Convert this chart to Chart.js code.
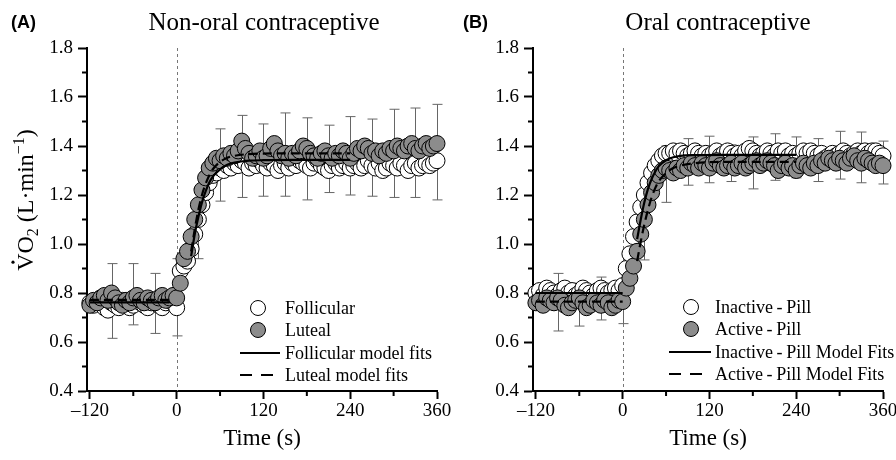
<!DOCTYPE html>
<html>
<head>
<meta charset="utf-8">
<script src="https://cdn.jsdelivr.net/npm/chart.js@4.4.0/dist/chart.umd.min.js"></script>
<style>
  body { margin: 0; background: #fff; }
  #wrap { position: relative; width: 896px; height: 460px; overflow: hidden; }
  #chartA { position: absolute; left: 0; top: 0; }
  #chartB { position: absolute; left: 448px; top: 0; }
</style>
</head>
<body>
<div id="wrap">
  <canvas id="chartA" width="460" height="460"></canvas>
  <canvas id="chartB" width="448" height="460"></canvas>
</div>
<script>
// time points (s), 5-s bins
const times = [
  -120,-115,-110,-105,-100,-95,-90,-85,-80,-75,-70,-65,
  -60,-55,-50,-45,-40,-35,-30,-25,-20,-15,-10,-5,
  0,5,10,15,20,25,30,35,40,45,50,55,
  60,65,70,75,80,85,90,95,100,105,110,115,
  120,125,130,135,140,145,150,155,160,165,170,175,
  180,185,190,195,200,205,210,215,220,225,230,235,
  240,245,250,255,260,265,270,275,280,285,290,295,
  300,305,310,315,320,325,330,335,340,345,350,355,
  360
];

// (A) Non-oral contraceptive
const follicular = [
  0.76,0.75,0.77,0.78,0.74,0.73,0.76,0.75,0.74,0.77,0.76,0.74,
  0.75,0.77,0.76,0.75,0.74,0.76,0.77,0.75,0.74,0.76,0.77,0.76,
  0.74,0.89,0.91,0.93,0.98,1.04,1.10,1.16,1.21,1.25,1.28,1.29,
  1.31,1.30,1.32,1.31,1.33,1.32,1.34,1.33,1.31,1.33,1.32,1.34,
  1.32,1.31,1.33,1.32,1.30,1.32,1.33,1.31,1.33,1.32,1.34,1.33,
  1.32,1.31,1.33,1.34,1.32,1.31,1.30,1.32,1.33,1.31,1.32,1.33,
  1.31,1.32,1.33,1.31,1.32,1.34,1.32,1.31,1.33,1.30,1.31,1.33,
  1.32,1.31,1.33,1.32,1.30,1.32,1.33,1.31,1.32,1.33,1.32,1.33,
  1.34
];
const luteal = [
  0.75,0.77,0.76,0.78,0.79,0.77,0.80,0.78,0.76,0.75,0.77,0.76,
  0.78,0.79,0.77,0.76,0.78,0.77,0.76,0.78,0.79,0.77,0.78,0.79,
  0.78,0.84,0.94,0.97,1.03,1.10,1.16,1.22,1.27,1.31,1.33,1.35,
  1.34,1.36,1.35,1.37,1.36,1.38,1.42,1.39,1.37,1.35,1.36,1.38,
  1.35,1.36,1.39,1.41,1.38,1.36,1.37,1.35,1.37,1.36,1.38,1.40,
  1.39,1.37,1.36,1.35,1.37,1.38,1.36,1.35,1.37,1.36,1.38,1.37,
  1.35,1.37,1.39,1.38,1.40,1.39,1.37,1.38,1.36,1.38,1.37,1.39,
  1.38,1.40,1.39,1.38,1.40,1.41,1.39,1.38,1.40,1.41,1.39,1.40,
  1.41
];

// (B) Oral contraceptive
const inactivePill = [
  0.80,0.81,0.79,0.82,0.81,0.80,0.79,0.81,0.82,0.80,0.81,0.79,
  0.80,0.82,0.81,0.80,0.79,0.81,0.82,0.81,0.80,0.81,0.82,0.81,
  0.83,0.90,0.96,1.03,1.09,1.15,1.20,1.25,1.29,1.32,1.34,1.36,
  1.37,1.37,1.38,1.37,1.38,1.37,1.36,1.37,1.38,1.37,1.36,1.37,
  1.36,1.37,1.38,1.36,1.37,1.38,1.37,1.36,1.37,1.36,1.38,1.39,
  1.38,1.37,1.36,1.37,1.38,1.37,1.36,1.38,1.37,1.38,1.36,1.37,
  1.36,1.37,1.38,1.37,1.38,1.37,1.36,1.37,1.35,1.36,1.37,1.36,
  1.37,1.38,1.37,1.36,1.37,1.38,1.37,1.38,1.37,1.38,1.38,1.37,
  1.36
];
const activePill = [
  0.76,0.77,0.75,0.78,0.77,0.76,0.78,0.77,0.75,0.74,0.76,0.77,
  0.78,0.76,0.74,0.75,0.77,0.76,0.75,0.77,0.76,0.74,0.75,0.77,
  0.765,0.82,0.86,0.91,0.97,1.04,1.10,1.16,1.21,1.25,1.28,1.30,
  1.31,1.30,1.29,1.31,1.30,1.32,1.31,1.33,1.32,1.31,1.33,1.32,
  1.31,1.33,1.34,1.32,1.31,1.32,1.33,1.31,1.32,1.33,1.31,1.32,
  1.33,1.34,1.32,1.33,1.34,1.33,1.32,1.30,1.32,1.33,1.31,1.32,
  1.30,1.32,1.33,1.32,1.31,1.33,1.32,1.34,1.33,1.35,1.34,1.33,
  1.35,1.34,1.33,1.35,1.36,1.34,1.33,1.35,1.34,1.33,1.32,1.33,
  1.32
];

// model fits (null splits baseline from phase II)
const fitTimesA = [-120, -10, 10, 20, 25, 30, 35, 40, 45, 50, 60, 70, 80, 100, 120, 160, 240];
const fitFollicular = [0.762, 0.762, null, 0.95, 1.04, 1.11, 1.17, 1.215, 1.25, 1.275, 1.305, 1.323, 1.332, 1.34, 1.342, 1.343, 1.343];
const fitLuteal = [0.772, 0.772, null, 0.97, 1.06, 1.14, 1.20, 1.245, 1.28, 1.305, 1.335, 1.352, 1.36, 1.367, 1.369, 1.37, 1.37];
const fitTimesB = [-120, 0, 10, 20, 25, 30, 35, 40, 45, 50, 60, 70, 80, 100, 140, 240];
const fitInactive = [0.80, 0.80, null, 1.02, 1.10, 1.17, 1.225, 1.265, 1.295, 1.318, 1.342, 1.354, 1.36, 1.363, 1.364, 1.364];
const fitActive = [0.765, 0.765, null, 0.93, 1.01, 1.08, 1.14, 1.19, 1.228, 1.256, 1.29, 1.31, 1.32, 1.33, 1.335, 1.335];

// SD bars: top and bottom ends every 30 s
const errTimes = [-90, -60, -30, 0, 30, 60, 90, 120, 150, 180, 210, 240, 270, 300, 330, 360];
const errHighA = [0.92, 0.92, 0.88, 0.94, 1.225, 1.47, 1.525, 1.49, 1.535, 1.515, 1.485, 1.52, 1.51, 1.55, 1.555, 1.57];
const errLowA = [0.615, 0.67, 0.635, 0.625, 0.94, 1.175, 1.19, 1.195, 1.195, 1.18, 1.21, 1.20, 1.195, 1.19, 1.19, 1.18];
const errHighB = [0.88, 0.84, 0.865, 0.85, 1.20, 1.40, 1.43, 1.44, 1.405, 1.437, 1.45, 1.437, 1.43, 1.46, 1.457, 1.42];
const errLowB = [0.645, 0.665, 0.69, 0.675, 0.935, 1.17, 1.24, 1.25, 1.255, 1.225, 1.26, 1.27, 1.255, 1.265, 1.25, 1.245];

// axis ticks
const xTicks = [-120, 0, 120, 240, 360];
const xTickLabels = ['\u2013120', '0', '120', '240', '360'];
const xMinor = [-60, 60, 180, 300];
const yTicks = [0.4, 0.6, 0.8, 1.0, 1.2, 1.4, 1.6, 1.8];
const yTickLabels = ['0.4', '0.6', '0.8', '1.0', '1.2', '1.4', '1.6', '1.8'];
const yMinor = [0.5, 0.7, 0.9, 1.1, 1.3, 1.5, 1.7];

const SERIF = '"Liberation Serif", "Times New Roman", serif';
const GRAY = '#8c8c8c';

function pts(xs, ys) {
  return xs.map((x, i) => ({ x: x, y: ys[i] }));
}

/**
 * SD bars and the dotted exercise-onset line, under the markers
 */
const errorBars = {
  id: 'errorBars',
  beforeDatasetsDraw(chart, args, opts) {
    const { ctx, chartArea, scales: { x, y } } = chart;
    ctx.save();
    ctx.strokeStyle = '#777';
    ctx.lineWidth = 1;
    ctx.setLineDash([3, 3]);
    const x0 = Math.round(x.getPixelForValue(0)) + 0.5;
    ctx.beginPath();
    ctx.moveTo(x0, chartArea.top);
    ctx.lineTo(x0, chartArea.bottom);
    ctx.stroke();
    ctx.setLineDash([]);
    ctx.strokeStyle = '#666';
    opts.times.forEach((t, i) => {
      const px = Math.round(x.getPixelForValue(t)) + 0.5;
      const hi = y.getPixelForValue(opts.high[i]);
      const lo = y.getPixelForValue(opts.low[i]);
      ctx.beginPath();
      ctx.moveTo(px, hi); ctx.lineTo(px, lo);
      ctx.moveTo(px - 5, hi); ctx.lineTo(px + 5, hi);
      ctx.moveTo(px - 5, lo); ctx.lineTo(px + 5, lo);
      ctx.stroke();
    });
    ctx.restore();
  }
};

/**
 * y title with real subscript / superscript, drawn rotated
 */
function drawYTitle(ctx, cx, cy) {
  const big = '24px ' + SERIF;
  const small = '16px ' + SERIF;
  const parts = [['V', big, 0], ['O', big, 0], ['2', small, 5], [' (L\u00B7min', big, 0], ['\u22121', small, -9], [')', big, 0]];
  ctx.save();
  ctx.translate(cx, cy);
  ctx.rotate(-Math.PI / 2);
  ctx.textAlign = 'left';
  ctx.textBaseline = 'alphabetic';
  let w = 0;
  parts.forEach(p => { ctx.font = p[1]; w += ctx.measureText(p[0]).width; });
  let x = -w / 2;
  parts.forEach(([t, f, dy]) => {
    ctx.font = f;
    ctx.fillText(t, x, 8 + dy);
    const tw = ctx.measureText(t).width;
    if (t === 'V') {
      ctx.beginPath();
      ctx.arc(x + tw / 2, 8 - 20, 1.6, 0, Math.PI * 2);
      ctx.fill();
    }
    x += tw;
  });
  ctx.restore();
}

/**
 * minor ticks, panel letter, title and the inset legend
 */
const decor = {
  id: 'decor',
  afterDraw(chart, args, o) {
    const { ctx, chartArea: a, scales: { x, y } } = chart;
    ctx.save();
    ctx.strokeStyle = '#000';
    ctx.lineWidth = 2;
    ctx.beginPath();
    xMinor.forEach(v => {
      const px = x.getPixelForValue(v);
      ctx.moveTo(px, a.bottom); ctx.lineTo(px, a.bottom + 5);
    });
    yMinor.forEach(v => {
      const py = y.getPixelForValue(v);
      ctx.moveTo(a.left - 5, py); ctx.lineTo(a.left, py);
    });
    ctx.stroke();

    ctx.fillStyle = '#000';
    if (o.yTitle) drawYTitle(ctx, 25, o.yTitleY);
    ctx.textBaseline = 'middle';
    ctx.font = 'bold 18px "Liberation Sans", Arial, sans-serif';
    ctx.textAlign = 'left';
    ctx.fillText(o.letter, o.letterX, 23);
    ctx.font = '25px ' + SERIF;
    ctx.textAlign = 'center';
    ctx.fillText(o.title, o.titleX, 23);

    // legend
    ctx.font = '18px ' + SERIF;
    ctx.textAlign = 'left';
    const cx = a.right + o.circleDx;
    const tx = a.right + o.textDx;
    const rows = o.rowsDy.map(d => a.bottom + d);
    ctx.lineWidth = 1;
    [['#fff', 0], [GRAY, 1]].forEach(([fill, r]) => {
      ctx.beginPath();
      ctx.arc(cx, rows[r], 7.5, 0, Math.PI * 2);
      ctx.fillStyle = fill;
      ctx.fill();
      ctx.strokeStyle = '#000';
      ctx.stroke();
    });
    ctx.lineWidth = 2;
    ctx.beginPath();
    ctx.moveTo(a.right + o.lineDx0, rows[2]);
    ctx.lineTo(a.right + o.lineDx1, rows[2]);
    ctx.stroke();
    ctx.setLineDash([12, 9]);
    ctx.beginPath();
    ctx.moveTo(a.right + o.lineDx0, rows[3]);
    ctx.lineTo(a.right + o.lineDx0 + 33, rows[3]);
    ctx.stroke();
    ctx.setLineDash([]);
    ctx.fillStyle = '#000';
    o.labels.forEach((t, i) => ctx.fillText(t, tx, rows[i] + 1));
    ctx.restore();
  }
};

function buildPanel(id, p) {
  return new Chart(document.getElementById(id), {
    type: 'scatter',
    data: {
      datasets: [
        { label: p.labels[2], data: pts(p.fitTimes, p.fitWhite), showLine: true, borderColor: '#000',
          borderWidth: 2.2, pointRadius: 0, cubicInterpolationMode: 'monotone', spanGaps: false, order: 0 },
        { label: p.labels[3], data: pts(p.fitTimes, p.fitGray), showLine: true, borderColor: '#000',
          borderWidth: 2.2, borderDash: [9, 5], pointRadius: 0, cubicInterpolationMode: 'monotone', spanGaps: false, order: 0 },
        { label: p.labels[1], data: pts(times, p.gray), backgroundColor: GRAY, borderColor: '#000',
          borderWidth: 1, pointRadius: 8, order: 1 },
        { label: p.labels[0], data: pts(times, p.white), backgroundColor: '#fff', borderColor: '#000',
          borderWidth: 1, pointRadius: 8, order: 2 }
      ]
    },
    options: {
      responsive: false,
      animation: false,
      events: [],
      clip: false,
      layout: { padding: { top: 48, right: p.padRight, left: 0, bottom: 0 } },
      plugins: {
        legend: { display: false },
        tooltip: { enabled: false },
        errorBars: { times: errTimes, high: p.errHigh, low: p.errLow },
        decor: p.decor
      },
      scales: {
        x: {
          type: 'linear', min: -124, max: 360,
          afterBuildTicks: s => { s.ticks = xTicks.map(v => ({ value: v })); },
          afterFit: s => { s.height = 69; s.paddingLeft = 0; s.paddingRight = 0; },
          ticks: { color: '#000', font: { family: SERIF, size: 19 }, padding: 1, maxRotation: 0,
                   callback: (v, i) => xTickLabels[i] },
          grid: { drawOnChartArea: false, tickLength: 8, tickWidth: 2, tickColor: '#000' },
          border: { width: 2, color: '#000' },
          title: { display: true, text: 'Time (s)', color: '#000', font: { family: SERIF, size: 23 },
                   padding: { top: 0, bottom: 7 } }
        },
        y: {
          min: 0.4, max: 1.8,
          afterBuildTicks: s => { s.ticks = yTicks.map(v => ({ value: v })); },
          afterFit: s => { s.width = p.yWidth; s.paddingTop = 0; s.paddingBottom = 0; },
          ticks: { color: '#000', font: { family: SERIF, size: 19 }, padding: 5,
                   callback: (v, i) => yTickLabels[i] },
          grid: { drawOnChartArea: false, tickLength: 9, tickWidth: 2, tickColor: '#000' },
          border: { width: 2, color: '#000' }
        }
      }
    },
    plugins: [errorBars, decor]
  });
}

buildPanel('chartA', {
  white: follicular, gray: luteal,
  fitTimes: fitTimesA, fitWhite: fitFollicular, fitGray: fitLuteal,
  errHigh: errHighA, errLow: errLowA,
  labels: ['Follicular', 'Luteal', 'Follicular model fits', 'Luteal model fits'],
  padRight: 23, yWidth: 87,
  decor: {
    letter: '(A)', letterX: 11, title: 'Non-oral contraceptive', titleX: 264, yTitle: true, yTitleY: 200,
    labels: ['Follicular', 'Luteal', 'Follicular model fits', 'Luteal model fits'],
    circleDx: -179, textDx: -152, lineDx0: -197, lineDx1: -157, rowsDy: [-83, -61, -38, -16]
  }
});

buildPanel('chartB', {
  white: inactivePill, gray: activePill,
  fitTimes: fitTimesB, fitWhite: fitInactive, fitGray: fitActive,
  errHigh: errHighB, errLow: errLowB,
  labels: ['Inactive-Pill', 'Active-Pill', 'Inactive-Pill Model Fits', 'Active-Pill Model Fits'],
  padRight: 13, yWidth: 85,
  decor: {
    letter: '(B)', letterX: 15, title: 'Oral contraceptive', titleX: 270, yTitle: false,
    labels: ['Inactive\u2009-\u2009Pill', 'Active\u2009-\u2009Pill', 'Inactive\u2009-\u2009Pill Model Fits', 'Active\u2009-\u2009Pill Model Fits'],
    circleDx: -192, textDx: -168, lineDx0: -214, lineDx1: -172, rowsDy: [-84, -62, -39, -17]
  }
});
</script>
</body>
</html>
